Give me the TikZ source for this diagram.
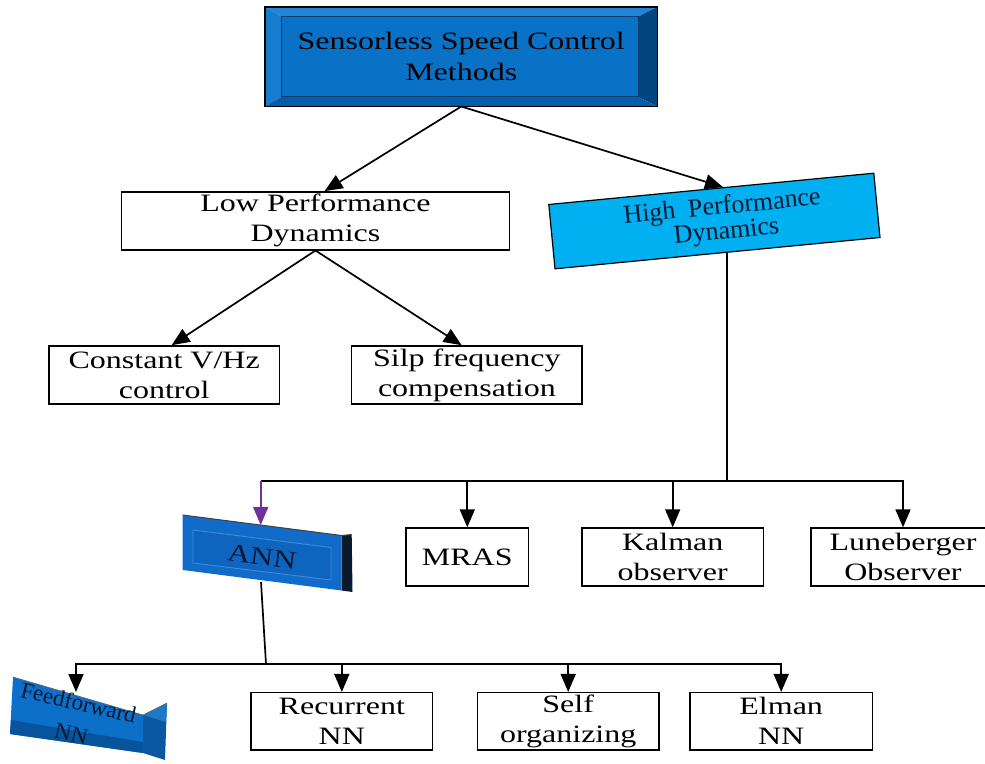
\documentclass[tikz,border=0pt]{standalone}
\usepackage{fontspec}
\setmainfont{Liberation Serif}[FakeStretch=1.28]
\newfontfamily\plainserif{Liberation Serif}
\usetikzlibrary{arrows.meta,calc}

\definecolor{bevface}{RGB}{10,114,198}
\definecolor{bevtop}{RGB}{34,134,216}
\definecolor{bevleft}{RGB}{22,124,206}
\definecolor{bevright}{RGB}{0,68,128}
\definecolor{bevbottom}{RGB}{6,92,168}
\definecolor{bevline}{RGB}{0,60,112}
\definecolor{hpcyan}{RGB}{0,176,240}
\definecolor{slabface}{RGB}{16,108,200}
\definecolor{slabinner}{RGB}{14,100,190}
\definecolor{slabrim}{RGB}{60,140,218}
\definecolor{slabside}{RGB}{8,26,44}
\definecolor{ffface}{RGB}{12,112,200}
\definecolor{ffband}{RGB}{8,84,156}
\definecolor{ffside}{RGB}{10,88,162}
\definecolor{ffsidetop}{RGB}{30,120,200}
\definecolor{inktext}{RGB}{10,24,48}
\definecolor{linkpurple}{RGB}{112,48,160}

\tikzset{
  plain/.style={draw=black, line width=1.4pt, fill=white, minimum height=58pt,
    inner sep=0pt, align=center, font=\fontsize{25}{30}\selectfont},
  link/.style={line width=1.7pt},
  arr/.style={line width=1.7pt, -{Triangle[length=18pt,width=15pt]}},
}

\begin{document}
\begin{tikzpicture}[x=1pt,y=-1pt]
\useasboundingbox (0,0) rectangle (985,763);

% bevelled title box
\coordinate (tnw) at (265,7);
\coordinate (tse) at (657.5,106.5);
\coordinate (inw) at (281.7,16.7);
\coordinate (ise) at (638,96.7);
\fill[bevtop] (tnw) -- (tnw -| tse) -- (inw -| ise) -- (inw) -- cycle;
\fill[bevleft] (tnw) -- (inw) -- (inw |- ise) -- (tnw |- tse) -- cycle;
\fill[bevright] (tnw -| tse) -- (tse) -- (ise) -- (inw -| ise) -- cycle;
\fill[bevbottom] (tnw |- tse) -- (inw |- ise) -- (ise) -- (tse) -- cycle;
\fill[bevface] (inw) rectangle (ise);
\draw[bevline, line width=0.6pt] (inw) rectangle (ise);
\draw[black, line width=1.2pt] (tnw) rectangle (tse);
\node[inner sep=0pt, align=center, font=\fontsize{25}{31}\selectfont]
  (top) at ($(tnw)!0.5!(tse)$) {Sensorless Speed Control\\Methods};
\coordinate (topout) at (top.center |- tse);

% second level
\node[plain, minimum width=387.6pt] (low) at (315.5,220.8) {Low Performance\\Dynamics};
\node[draw=black, line width=1.2pt, fill=hpcyan, rotate=5.5, minimum width=326.5pt,
  minimum height=64.6pt, inner sep=0pt, align=center, text=inktext,
  font=\plainserif\fontsize{26}{25}\selectfont] (high) at (714.4,221)
  {\hspace*{18pt}High\ \ Performance\\\hspace*{22pt}Dynamics};

% low performance branch
\node[plain, minimum width=230.3pt] (vhz) at (164.2,374.9) {Constant V/Hz\\control};
\node[plain, minimum width=230.3pt] (slip) at (466.9,374.9) {Silp frequency\\compensation};

% high performance branch
\node[plain, minimum width=122.5pt] (mras) at (467.3,557) {MRAS};
\node[plain, minimum width=181.3pt] (kalman) at (672.7,557) {Kalman\\observer};
\node[plain, minimum width=184pt] (lune) at (903,557) {Luneberger\\Observer};

% ANN slab
\fill[slabside] (341.7,535.5) -- (351.7,534.5) -- (352.5,592) -- (341.7,590.5) -- cycle;
\fill[slabface] (182.7,515) -- (341.7,535.5) -- (341.7,590.5) -- (182.7,570) -- cycle;
\fill[slabinner] (193,530) -- (331,547.5) -- (331,580) -- (193,563) -- cycle;
\draw[slabrim, line width=0.9pt] (193,530) -- (331,547.5) -- (331,580) -- (193,563) -- cycle;
\draw[black!75, line width=1pt] (182.7,515) -- (341.7,535.5) -- (351.7,534.5);
\node[rotate=-7.3, inner sep=0pt, text=inktext,
  font=\fontsize{25}{26}\selectfont] (ann) at (262,557) {ANN};
\coordinate (annin) at (260.7,525);
\coordinate (annout) at (261,582);

% Feedforward slab
\fill[ffside] (143,715) -- (167,703) -- (165,760) -- (143,753) -- cycle;
\fill[ffsidetop] (143,715) -- (167,703) -- (166,722) -- cycle;
\fill[ffface] (13,677) -- (143,715) -- (143,753) -- (10,734) -- cycle;
\fill[ffband] (11,720) -- (143,742) -- (143,753) -- (10,734) -- cycle;
\draw[black!60, line width=0.6pt] (13,677) -- (143,715) -- (167,703);
\node[rotate=-13, inner sep=0pt, align=center, text=inktext,
  font=\plainserif\fontsize{23}{32}\selectfont] (ff) at (75,718) {Feedforward\\NN};
\coordinate (ffin) at (76,692);

% neural network variants
\node[plain, minimum width=181.7pt, minimum height=57.3pt] (rec) at (341.8,721.3) {Recurrent\\NN};
\node[plain, minimum width=181.7pt, minimum height=57.3pt] (self) at (568.2,721.3) {Self\\organizing};
\node[plain, minimum width=182.3pt, minimum height=57.3pt] (elman) at (781.2,721.3) {Elman\\NN};

% connectors: top level
\draw[arr] (topout) -- (low.73);
\draw[arr] (topout) -- ($(high.north)!0.072!(high.north east)$);
\draw[arr] (low.south) -- (vhz.76);
\draw[arr] (low.south) -- (slip.100);

% connectors: high performance bus
\coordinate (hs) at ($(high.south)!0.057!(high.south east)$);
\coordinate (hbus) at (hs |- 0,481);
\draw[link] (hs) -- (hbus);
\draw[arr] (hbus) -| (mras.north);
\draw[arr] (hbus) -| (kalman.north);
\draw[arr] (hbus) -| (lune.north);
\draw[link] (hbus) -- (annin |- hbus);
\draw[line width=1.7pt, linkpurple, -{Triangle[length=18pt,width=15pt]}] (annin |- hbus) -- (annin);

% connectors: ANN bus
\coordinate (abus) at (266,664);
\draw[link] (annout) -- (abus);
\draw[arr] (abus) -| (ffin);
\draw[arr] (abus) -| (rec.north);
\draw[arr] (abus) -| (self.north);
\draw[arr] (abus) -| (elman.north);
\end{tikzpicture}
\end{document}
